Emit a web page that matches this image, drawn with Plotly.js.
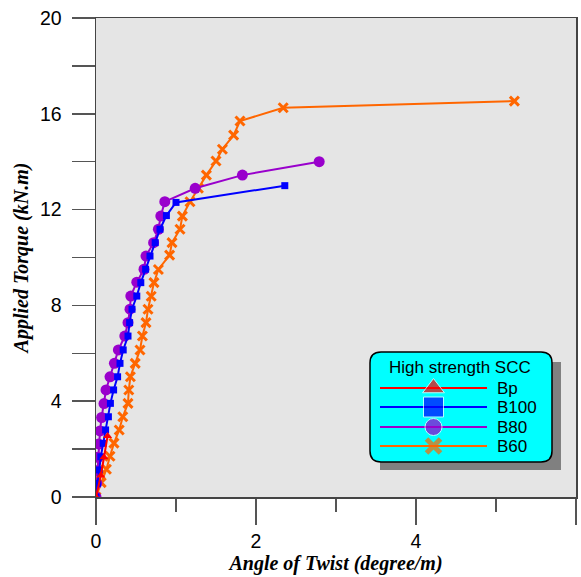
<!DOCTYPE html>
<html>
<head>
<meta charset="utf-8">
<script src="https://cdn.plot.ly/plotly-3.0.1.min.js"></script>
<style>html,body{margin:0;padding:0;background:#fff;}#chart{width:581px;height:577px;}</style>
</head>
<body>
<div id="chart"></div>
<script>
// Data (Angle of twist in degree/m, torque in kN.m)
const bpX = [0, 0.06, 0.10, 0.145];
const bpY = [0, 0.90, 1.66, 2.55];

const b100X = [0, 0.02, 0.04, 0.06, 0.09, 0.12, 0.155, 0.18, 0.22, 0.27, 0.30, 0.34, 0.40, 0.42, 0.45, 0.51, 0.56, 0.62, 0.675, 0.74, 0.80, 0.88, 1.00, 2.36];
const b100Y = [0, 0.57, 1.13, 1.68, 2.24, 2.80, 3.35, 3.91, 4.47, 5.02, 5.58, 6.14, 6.72, 7.28, 7.84, 8.39, 8.95, 9.51, 10.06, 10.62, 11.18, 11.75, 12.30, 13.00];

const b80X = [0, 0.01, 0.013, 0.025, 0.035, 0.05, 0.07, 0.10, 0.125, 0.175, 0.23, 0.28, 0.36, 0.40, 0.425, 0.435, 0.51, 0.60, 0.625, 0.72, 0.78, 0.81, 0.86, 1.24, 1.83, 2.79];
const b80Y = [0, 0.57, 1.10, 1.66, 2.21, 2.76, 3.32, 3.90, 4.47, 5.02, 5.58, 6.14, 6.72, 7.28, 7.84, 8.39, 8.97, 9.51, 10.06, 10.62, 11.18, 11.73, 12.33, 12.89, 13.44, 14.00];

const b60X = [0, 0.065, 0.13, 0.175, 0.225, 0.29, 0.335, 0.40, 0.41, 0.43, 0.49, 0.55, 0.58, 0.625, 0.65, 0.69, 0.725, 0.78, 0.92, 0.95, 1.05, 1.08, 1.175, 1.28, 1.38, 1.50, 1.58, 1.72, 1.80, 2.34, 5.23];
const b60Y = [0, 0.60, 1.16, 1.70, 2.25, 2.80, 3.35, 3.91, 4.47, 5.02, 5.58, 6.14, 6.72, 7.28, 7.84, 8.38, 8.95, 9.50, 10.10, 10.62, 11.18, 11.73, 12.33, 12.89, 13.44, 14.03, 14.52, 15.11, 15.70, 16.25, 16.53];

const seriesNames = ['Bp', 'B100', 'B80', 'B60'];
const seriesColors = ['#ff0000', '#0000ff', '#9900cc', '#ff6600'];
const legendTitle = 'High strength SCC';
const xTickVals = [0, 2, 4, 6];
const yTickVals = [0, 4, 8, 12, 16, 20];

const traces = [
  {x: b60X, y: b60Y, mode: 'lines+markers', line: {color: seriesColors[3], width: 2},
   marker: {symbol: 'x-thin', size: 9, line: {color: seriesColors[3], width: 3}, color: seriesColors[3]}},
  {x: b80X, y: b80Y, mode: 'lines+markers', line: {color: seriesColors[2], width: 2},
   marker: {symbol: 'circle', size: 11, color: seriesColors[2]}},
  {x: b100X, y: b100Y, mode: 'lines+markers', line: {color: seriesColors[1], width: 2},
   marker: {symbol: 'square', size: 7, color: seriesColors[1]}},
  {x: bpX, y: bpY, mode: 'lines+markers', line: {color: seriesColors[0], width: 2},
   marker: {symbol: 'triangle-up', size: 8, color: seriesColors[0]}}
];

// Custom legend drawn on a hidden pixel-like overlay axis pair
const legRows = [388, 407, 427, 446];
const legSymbols = [
  {symbol: 'triangle-up', size: 19, color: seriesColors[0]},
  {symbol: 'square', size: 20, color: seriesColors[1]},
  {symbol: 'circle', size: 17, color: seriesColors[2]},
  {symbol: 'x-thin', size: 14, color: seriesColors[3], line: {color: seriesColors[3], width: 5}}
];
seriesNames.forEach((n, i) => {
  traces.push({x: [380, 433.5, 487], y: [legRows[i], legRows[i], legRows[i]], xaxis: 'x2', yaxis: 'y2',
    mode: 'lines+markers', line: {color: seriesColors[i], width: 2}, cliponaxis: false,
    marker: Object.assign({}, legSymbols[i], {size: [0, legSymbols[i].size, 0]})});
});

function roundRect(x0, y0, x1, y1, r) {
  return `M${x0+r},${y0} L${x1-r},${y0} Q${x1},${y0} ${x1},${y0+r} L${x1},${y1-r} Q${x1},${y1} ${x1-r},${y1} L${x0+r},${y1} Q${x0},${y1} ${x0},${y1-r} L${x0},${y0+r} Q${x0},${y0} ${x0+r},${y0} Z`;
}

const annotations = [
  {x: 460, y: 367, xref: 'x2', yref: 'y2', text: legendTitle, showarrow: false,
   font: {family: 'Liberation Sans, Arial', size: 17, color: '#000'}}
];
seriesNames.forEach((n, i) => {
  annotations.push({x: 495, y: legRows[i], xref: 'x2', yref: 'y2', text: n, showarrow: false, xanchor: 'left',
    font: {family: 'Liberation Sans, Arial', size: 17, color: '#000'}});
});

const layout = {
  width: 581, height: 577,
  margin: {l: 96, r: 5, t: 18, b: 80},
  paper_bgcolor: '#ffffff',
  plot_bgcolor: '#e5e5e5',
  showlegend: false,
  xaxis: {
    range: [0, 6], tickvals: xTickVals, ticks: 'outside', ticklen: 26, tickwidth: 1.5, tickcolor: '#555',
    minor: {dtick: 1, ticks: 'outside', ticklen: 13, tickwidth: 1.5, tickcolor: '#555', showgrid: false},
    showgrid: false, zeroline: false, showline: true, linecolor: '#444', linewidth: 1.5, mirror: true,
    tickfont: {family: 'Liberation Sans, Arial', size: 19.5, color: '#000'},
    title: {text: 'Angle of Twist (degree/m)', standoff: 2,
      font: {family: 'Liberation Serif, Times New Roman', size: 20, color: '#000', weight: 'bold', style: 'italic'}}
  },
  yaxis: {
    range: [0, 20], tickvals: yTickVals, ticks: 'outside', ticklen: 23, tickwidth: 1.5, tickcolor: '#555',
    ticklabelstandoff: 6,
    minor: {dtick: 2, ticks: 'outside', ticklen: 23, tickwidth: 1.5, tickcolor: '#555', showgrid: false},
    showgrid: false, zeroline: false, showline: true, linecolor: '#444', linewidth: 1.5, mirror: true,
    tickfont: {family: 'Liberation Sans, Arial', size: 19.5, color: '#000'},
    title: {text: 'Applied Torque (kN.m)', standoff: 6,
      font: {family: 'Liberation Serif, Times New Roman', size: 20, color: '#000', weight: 'bold', style: 'italic'}}
  },
  xaxis2: {overlaying: 'x', anchor: 'y2', range: [96, 576], visible: false, fixedrange: true},
  yaxis2: {overlaying: 'y', anchor: 'x2', range: [497, 18], visible: false, fixedrange: true},
  shapes: [
    {type: 'rect', xref: 'x2', yref: 'y2', x0: 380, x1: 561, y0: 362, y1: 470, fillcolor: '#808080', line: {width: 0}, layer: 'below'},
    {type: 'path', xref: 'x2', yref: 'y2', path: roundRect(370, 352, 552, 462, 11), fillcolor: '#00ffff', line: {color: '#000', width: 1.5}, layer: 'below'}
  ],
  annotations: annotations
};

Plotly.newPlot('chart', traces, layout, {displayModeBar: false, staticPlot: true});
</script>
</body>
</html>
